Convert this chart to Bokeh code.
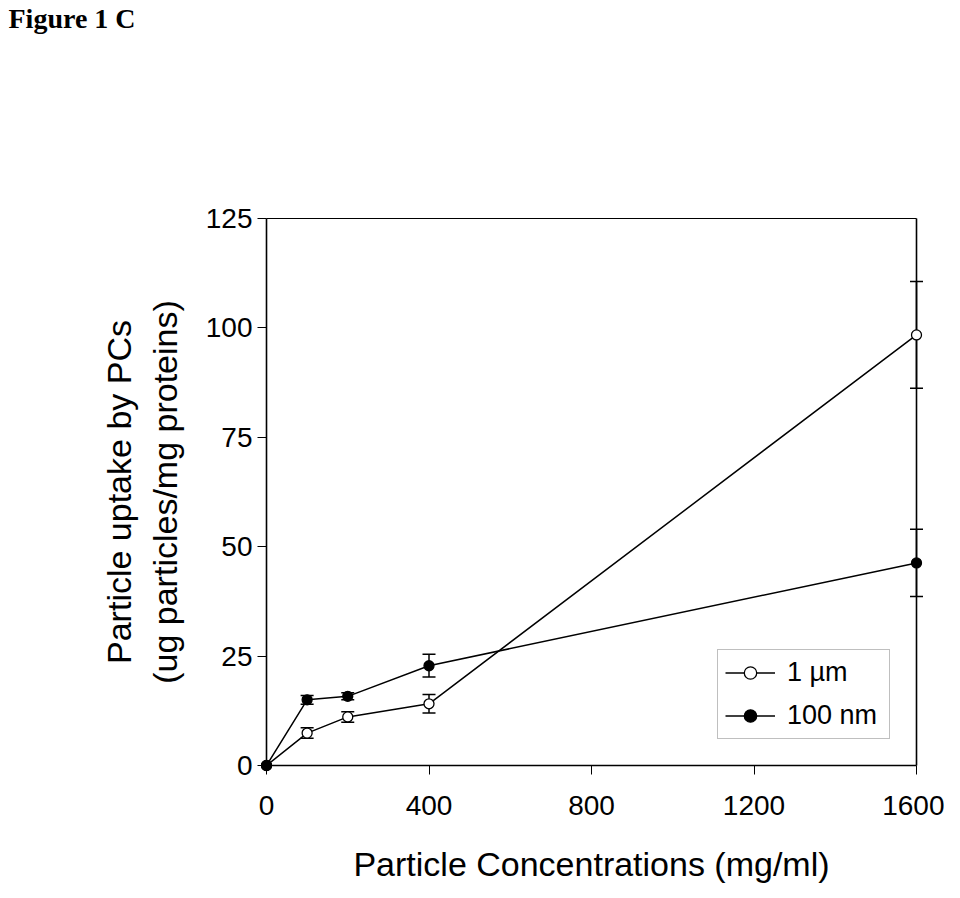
from bokeh.plotting import figure
from bokeh.models import (Range1d, FixedTicker, Whisker, ColumnDataSource, Legend,
                          LegendItem, Title, TeeHead)
from bokeh.embed import file_html
from bokeh.resources import INLINE

# ---- data ----
x_conc = [0, 100, 200, 400, 1600]
uptake_1um = [0, 7.4, 11.1, 14.1, 98.4]
err_1um = [0, 1.2, 1.2, 2.1, 12.2]
uptake_100nm = [0, 15.0, 15.8, 22.8, 46.3]
err_100nm = [0, 1.0, 0.8, 2.6, 7.7]
x_ticks = [0, 400, 800, 1200, 1600]
y_ticks = [0, 25, 50, 75, 100, 125]
X_MIN, X_MAX = 0, 1600
Y_MIN, Y_MAX = 0, 125
series_labels = ["1 µm", "100 nm"]

# ---- layout ----
W, H = 944, 894
BOX_W, BOX_H = 650, 547   # pixel size of the boxed data area
PAD = 9                   # frame padding = tick length, so edge markers are not clipped
xpad = PAD * (X_MAX - X_MIN) / BOX_W
ypad = PAD * (Y_MAX - Y_MIN) / BOX_H

FONT = "Liberation Sans"

p = figure(width=W, height=H, output_backend="svg", toolbar_location=None,
           x_range=Range1d(X_MIN - xpad, X_MAX + xpad),
           y_range=Range1d(Y_MIN - ypad, Y_MAX + ypad),
           min_border_left=257, min_border_right=W - 925,
           min_border_top=209, min_border_bottom=H - 774)
p.xgrid.visible = False
p.ygrid.visible = False
p.outline_line_color = None
p.background_fill_color = "white"
p.border_fill_color = "white"

# x axis (ticks reach from the box edge outward)
xa = p.xaxis[0]
xa.bounds = (X_MIN, X_MAX)
xa.ticker = FixedTicker(ticks=x_ticks, minor_ticks=[])
xa.axis_line_color = None
xa.major_tick_in = PAD
xa.major_tick_out = 0
xa.minor_tick_out = 0
xa.minor_tick_in = 0
xa.major_tick_line_width = 1
xa.major_tick_line_color = "black"
xa.major_label_text_font = FONT
xa.major_label_text_font_size = "28px"
xa.major_label_text_color = "black"
xa.major_label_standoff = 21
xa.axis_label = "Particle Concentrations (mg/ml)"
xa.axis_label_text_font = FONT
xa.axis_label_text_font_size = "34px"
xa.axis_label_text_font_style = "normal"
xa.axis_label_text_color = "black"
xa.axis_label_standoff = 27

# y axis
ya = p.yaxis[0]
ya.bounds = (Y_MIN, Y_MAX)
ya.ticker = FixedTicker(ticks=y_ticks, minor_ticks=[])
ya.axis_line_color = None
ya.major_tick_in = PAD
ya.major_tick_out = 0
ya.minor_tick_out = 0
ya.minor_tick_in = 0
ya.major_tick_line_width = 1
ya.major_tick_line_color = "black"
ya.major_label_text_font = FONT
ya.major_label_text_font_size = "28px"
ya.major_label_text_color = "black"
ya.major_label_standoff = 5
ya.axis_label = "Particle uptake by PCs\n(ug particles/mg proteins)"
ya.axis_label_text_font = FONT
ya.axis_label_text_font_size = "34px"
ya.axis_label_text_font_style = "normal"
ya.axis_label_text_color = "black"
ya.axis_label_text_line_height = 1.2
ya.axis_label_standoff = 19

# box around the data area
p.segment(x0=[X_MIN, X_MIN, X_MIN, X_MAX], y0=[Y_MIN, Y_MIN, Y_MAX, Y_MIN],
          x1=[X_MAX, X_MIN, X_MAX, X_MAX], y1=[Y_MIN, Y_MAX, Y_MAX, Y_MAX],
          line_color="black", line_width=[1.6, 1.6, 1.2, 1.6])

# error bars
def whisker_source(xs, ys, es):
    keep = [i for i, e in enumerate(es) if e > 0]
    return ColumnDataSource(dict(
        x=[xs[i] for i in keep],
        upper=[ys[i] + es[i] for i in keep],
        lower=[ys[i] - es[i] for i in keep]))

for ys, es in [(uptake_1um, err_1um), (uptake_100nm, err_100nm)]:
    w = Whisker(source=whisker_source(x_conc, ys, es), base="x", upper="upper", lower="lower",
                line_color="black", line_width=1.5,
                upper_head=TeeHead(size=13, line_width=1.5, line_color="black"),
                lower_head=TeeHead(size=13, line_width=1.5, line_color="black"))
    p.add_layout(w)

# lines and markers
l1 = p.line(x_conc, uptake_1um, line_color="black", line_width=1.5)
l2 = p.line(x_conc, uptake_100nm, line_color="black", line_width=1.5)
s1 = p.scatter(x_conc, uptake_1um, size=10, marker="circle", fill_color="white",
               line_color="black", line_width=1.3)
s2 = p.scatter(x_conc, uptake_100nm, size=10, marker="circle", fill_color="black",
               line_color="black", line_width=1.3)

legend = Legend(items=[LegendItem(label=series_labels[0], renderers=[l1, s1]),
                       LegendItem(label=series_labels[1], renderers=[l2, s2])],
                location=(460, 35), orientation="vertical",
                glyph_width=50, glyph_height=31, label_standoff=12, label_width=95,
                padding=7, spacing=12, margin=0,
                label_text_font=FONT, label_text_font_size="27px",
                label_text_color="black",
                border_line_color="#808080", border_line_width=1,
                background_fill_color="white", background_fill_alpha=1.0)
p.add_layout(legend)

# "above" panels stack outward from the plot: a blank spacer first, then the heading
spacer = Title(text=" ", standoff=171, text_font_size="1px", text_color="white")
p.add_layout(spacer, "above")
title = Title(text="Figure 1 C", align="left", offset=8 - 257, standoff=0,
              vertical_align="top",
              text_font="Liberation Serif", text_font_style="bold",
              text_font_size="28px", text_color="black")
p.add_layout(title, "above")

open("out.html", "w").write(file_html(p, INLINE))
